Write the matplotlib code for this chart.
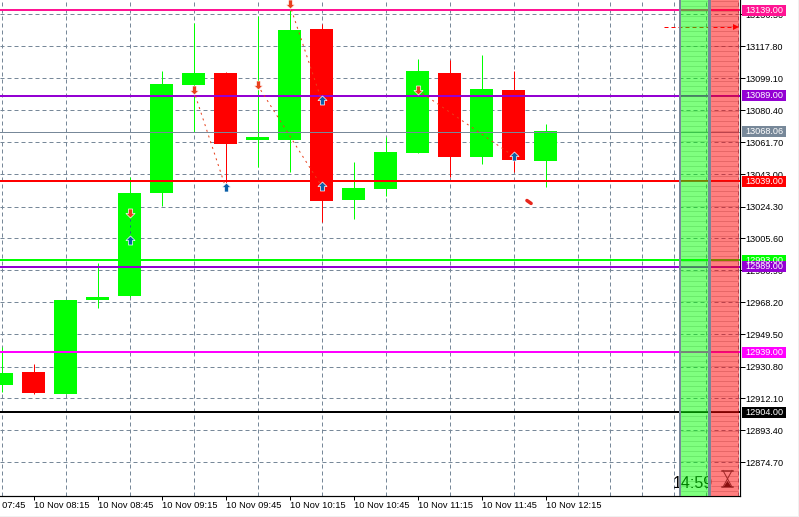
import numpy as np
import matplotlib
matplotlib.use('Agg')
from matplotlib import pyplot as plt
from matplotlib.patches import Rectangle, Polygon
from matplotlib.path import Path
from matplotlib.transforms import blended_transform_factory

plt.rcParams['font.family'] = 'Liberation Sans'

# 15 minute candles, first one sits on the 08:00 slot
opens = [12920.0, 12927.6, 12914.7, 12969.7, 12972.0, 13032.2, 13095.3, 13102.3, 13063.2, 13063.2,
         13128.0, 13028.1, 13034.5, 13055.6, 13102.3, 13053.2, 13092.4, 13050.9, 13068.06]
closes = [12927.0, 12915.3, 12969.7, 12971.4, 13032.2, 13095.9, 13102.3, 13060.8, 13064.9, 13127.4,
          13027.5, 13035.1, 13056.1, 13103.5, 13053.2, 13093.0, 13051.5, 13068.4, 13068.06]
highs = [12942.2, 12932.3, 12969.7, 12991.3, 13041.5, 13103.5, 13131.5, 13102.9, 13135.6, 13143.2,
         13130.9, 13050.3, 13064.9, 13110.5, 13109.9, 13112.8, 13103.5, 13072.5, 13068.06]
lows = [12915.9, 12914.7, 12914.7, 12965.0, 12971.4, 13024.6, 13067.8, 13033.9, 13047.4, 13044.5,
        13015.2, 13017.0, 13030.4, 13055.6, 13041.5, 13049.1, 13044.5, 13035.7, 13068.06]

y_ticks = [13136.50, 13117.80, 13099.10, 13080.40, 13061.70, 13043.00, 13024.30, 13005.60,
           12986.90, 12968.20, 12949.50, 12930.80, 12912.10, 12893.40, 12874.70]

time_labels = ['10 Nov 07:45', '10 Nov 08:15', '10 Nov 08:45', '10 Nov 09:15', '10 Nov 09:45',
               '10 Nov 10:15', '10 Nov 10:45', '10 Nov 11:15', '10 Nov 11:45', '10 Nov 12:15']
time_pos = [-1, 1, 3, 5, 7, 9, 11, 13, 15, 17]

# horizontal levels, drawn in this order
level_prices = [13139.00, 13089.00, 13068.06, 13039.00, 12993.00, 12989.00, 12939.00, 12904.00]
level_colors = ['#ff1493', '#9400d3', '#778899', '#ff0000', '#00ff00', '#9400d3', '#ff00ff', '#000000']
level_widths = [2, 2, 1, 2, 2, 2, 2, 2]

# closed trades: sell arrow -> buy arrow
sell_x = [4, 6, 8, 9, 13]
sell_y = [13020.7, 13092.4, 13095.3, 13142.6, 13092.4]
buy_x = [4, 7, 10, 10, 16]
buy_y = [13004.7, 13035.7, 13036.3, 13086.5, 13053.8]

W, H = 799, 517
AX_R, AX_B = 739.5, 495.5
PX_PER_BAR = 32
PRICE_PER_PX = 18.7 / 32
GRID = '#778899'


def px(n):
    return n / 100 * 72  # pixels to points at dpi 100


def bar_x(p):
    return (p - 1.5) / PX_PER_BAR  # pixel column to bar index


fig = plt.figure(figsize=(W / 100, H / 100), dpi=100, facecolor='white')
ax = fig.add_axes([0, (H - AX_B) / H, AX_R / W, AX_B / H])

for side in ['top', 'left']:
    ax.spines[side].set_visible(False)
for side in ['right', 'bottom']:
    ax.spines[side].set_linewidth(px(1.2))

ax.yaxis.tick_right()
ax.set_yticks(y_ticks)
ax.set_yticklabels(['%.2f' % v for v in y_ticks], fontsize=6.6)
ax.set_xticks(time_pos)
ax.set_xticklabels([])
ax.tick_params(axis='y', length=px(5), width=px(1), pad=px(1))
ax.tick_params(axis='x', length=px(4), width=px(1))

grid_dash = (0, (4, 3))
ax.set_xticks(np.arange(0, 24), minor=True)
ax.tick_params(axis='x', which='minor', length=0)
ax.grid(True, which='minor', axis='x', color=GRID, lw=px(1), ls=grid_dash, zorder=1)
ax.grid(True, which='major', axis='y', color=GRID, lw=px(1), ls=grid_dash, zorder=1)
ax.set_axisbelow(True)

# limits last, set_xticks widens them otherwise
ax.set_xlim(-1.5 / PX_PER_BAR, (AX_R - 1.5) / PX_PER_BAR)
ax.set_ylim(13117.8 - (AX_B - 46.5) * PRICE_PER_PX, 13117.8 + 46.5 * PRICE_PER_PX)

# candles
for i in range(len(opens)):
    col = '#00ff00' if closes[i] >= opens[i] else '#ff0000'
    if i == 18:
        col = '#ff0000'
    ax.vlines(i, lows[i], highs[i], color=col, lw=px(1), zorder=2)
    bottom = min(opens[i], closes[i])
    height = abs(closes[i] - opens[i])
    if height < 0.1:
        ax.hlines(opens[i], i - 11.5 / PX_PER_BAR, i + 11.5 / PX_PER_BAR, color=col, lw=px(1), zorder=2)
    else:
        ax.bar(i, height, bottom=bottom, width=23 / PX_PER_BAR, color=col, lw=0, zorder=2)

# horizontal levels
for price, col, lw in zip(level_prices, level_colors, level_widths):
    ax.axhline(price, color=col, lw=px(lw), zorder=3)

# trade lines and arrows
up_arrow = Path([(0, 1), (1, 0), (0.45, 0), (0.45, -1), (-0.45, -1), (-0.45, 0), (-1, 0), (0, 1)], closed=True)
down_arrow = Path([(0, -1), (1, 0), (0.45, 0), (0.45, 1), (-0.45, 1), (-0.45, 0), (-1, 0), (0, -1)], closed=True)
for x0, y0, x1, y1 in zip(sell_x, sell_y, buy_x, buy_y):
    col = '#e8401c' if x0 != x1 else '#1f5f8f'
    ax.plot([x0, x1], [y0, y1], color=col, lw=px(1), ls=(0, (2, 4)), zorder=4)
ax.scatter(sell_x, sell_y, marker=down_arrow, s=42, color='#e8401c', edgecolor='white', linewidth=0.5, zorder=5)
ax.scatter(buy_x, buy_y, marker=up_arrow, s=42, color='#0a5fa8', edgecolor='white', linewidth=0.5, zorder=5)

# stray trade mark below the last bars
ax.plot([16.42, 16.55], [13027.8, 13026.1], color='#e8261c', lw=px(3.5), solid_capstyle='round', zorder=5)

# pending order line at top
ax.plot([bar_x(664), bar_x(735)], [13129.0, 13129.0], color='#ff0000', lw=px(1), ls=(0, (4, 3)), zorder=5)
ax.plot([bar_x(736)], [13129.0], marker='>', ms=5, color='#ff0000', mew=0, zorder=8)

# countdown sits under the green column, black turns dark green through it
clock = ax.text(bar_x(673), 13117.8 - (487.5 - 46.5) * PRICE_PER_PX, '14:59', fontsize=11.5, color='black',
                va='baseline', ha='left', zorder=5.5)
clock.set_clip_path(Rectangle((673 / AX_R, 0), 35 / AX_R, 1, transform=ax.transAxes))

# shaded columns on the right
col_tr = ax.transAxes
ax.add_patch(Rectangle((681 / AX_R, 0), 27 / AX_R, 1, transform=col_tr, color='#00ff00', alpha=0.5, lw=0, zorder=6))
ax.add_patch(Rectangle((711 / AX_R, 0), 27.5 / AX_R, 1, transform=col_tr, color='#ff0000', alpha=0.5, lw=0, zorder=6))
for left, width in [(679, 2), (708, 3)]:
    ax.add_patch(Rectangle((left / AX_R, 0), width / AX_R, 1, transform=col_tr, color=GRID, lw=0, zorder=7))
stripe_y = np.arange(13144.5, 12855.4, -5 * PRICE_PER_PX)
ax.hlines(stripe_y, bar_x(681), bar_x(708), color='#40c040', lw=px(1), alpha=0.3, zorder=6)
ax.hlines(stripe_y, bar_x(711), bar_x(738), color='#b03030', lw=px(1), alpha=0.3, zorder=6)

# hourglass icon, no installed font has the glyph
hg_x0, hg_x1 = bar_x(722), bar_x(733)
hg_mid = bar_x(727.5)
hg_top = 13117.8 - (470.5 - 46.5) * PRICE_PER_PX
hg_bot = 13117.8 - (487 - 46.5) * PRICE_PER_PX
hg_c = (hg_top + hg_bot) / 2
ax.plot([hg_x0, hg_x1], [hg_top, hg_top], color='#a02828', lw=px(1.5), zorder=8)
ax.plot([hg_x0, hg_x1], [hg_bot, hg_bot], color='#a02828', lw=px(1.5), zorder=8)
ax.plot([bar_x(723), hg_mid, bar_x(732)], [hg_top, hg_c, hg_top], color='#a02828', lw=px(1), zorder=8)
ax.plot([bar_x(723), hg_mid, bar_x(732)], [hg_bot, hg_c, hg_bot], color='#a02828', lw=px(1), zorder=8)
ax.add_patch(Polygon([(bar_x(723.5), hg_bot), (hg_mid, hg_bot + 6 * PRICE_PER_PX), (bar_x(731.5), hg_bot)],
                     color='#8a1010', lw=0, zorder=8))

# price tags over the axis
tag_tr = blended_transform_factory(ax.transAxes, ax.transData)
for price, col in zip(level_prices, level_colors):
    ax.add_patch(Rectangle((742 / AX_R, price - 5.5 * PRICE_PER_PX), 44 / AX_R, 11 * PRICE_PER_PX,
                           transform=tag_tr, color=col, lw=0, clip_on=False, zorder=10))
    ax.text(764 / AX_R, price, '%.2f' % price, transform=tag_tr, color='white', fontsize=6.6,
            ha='center', va='center', clip_on=False, zorder=11)

# time labels start right of their tick
for pos, lab in zip(time_pos, time_labels):
    ax.annotate(lab, (pos, 0), xycoords=('data', 'axes fraction'), xytext=(px(1), -px(6)),
                textcoords='offset points', fontsize=6.7, ha='left', va='top', annotation_clip=False)

fig.add_artist(Rectangle((0, 0), 1, 1 / H, transform=fig.transFigure, color='#f0f0f0', lw=0))
fig.add_artist(Rectangle((1 - 1 / W, 0), 1 / W, 1, transform=fig.transFigure, color='#f0f0f0', lw=0))

fig.savefig('out.png', dpi=100)
